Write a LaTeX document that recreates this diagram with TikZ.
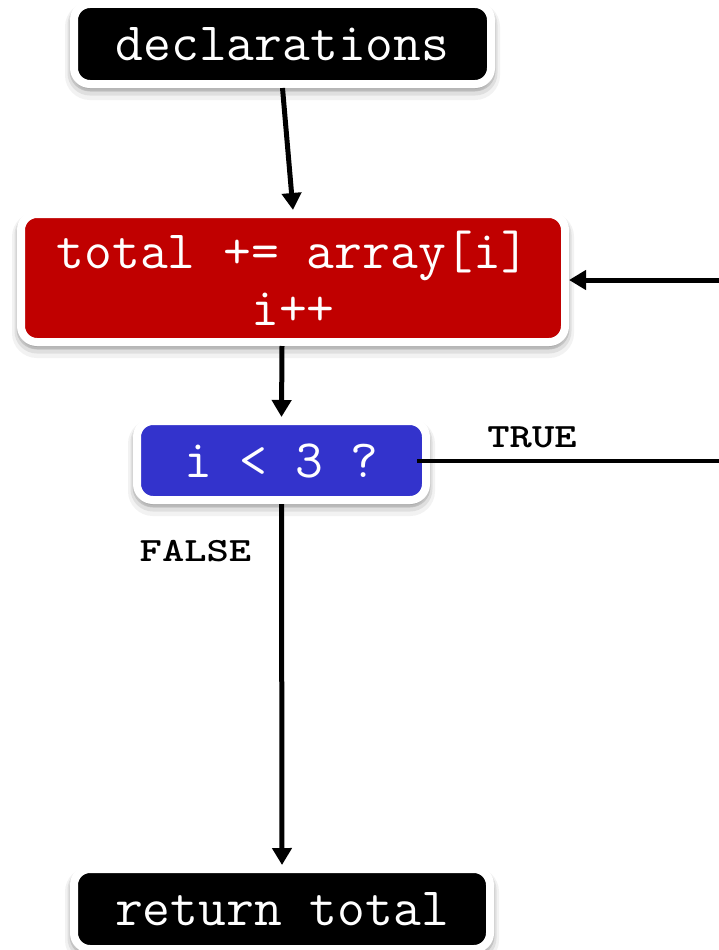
\documentclass[tikz,border=0pt]{standalone}
\usepackage{fontspec}
\usetikzlibrary{arrows.meta}
\definecolor{stepred}{HTML}{C00000}
\definecolor{testblue}{HTML}{3333CC}
\newcommand{\widelabel}[1]{\scalebox{1.25}[1]{#1}}
\tikzset{
  codebox/.style={rounded corners=16pt, draw=white, line width=8pt,
    text=white, align=center, inner sep=0pt,
    font=\ttfamily\fontsize{54}{57}\selectfont,
    preaction={draw=black, fill=black, line width=18pt, opacity=0.05,
      transform canvas={yshift=-7pt}},
    preaction={draw=black, fill=black, line width=13pt, opacity=0.08,
      transform canvas={yshift=-5pt}},
    preaction={draw=black, fill=black, line width=9pt, opacity=0.12,
      transform canvas={yshift=-3pt}}},
  conn/.style={draw=black, line width=5pt,
    -{Triangle[length=17pt,width=19pt]}},
  flowline/.style={draw=black, line width=4.5pt},
  branchlabel/.style={font=\ttfamily\bfseries\fontsize{34}{40}\selectfont,
    text=black, inner sep=0pt}
}
\begin{document}
\begin{tikzpicture}[x=1pt, y=-1pt]
  \useasboundingbox (0,0) rectangle (719,950);

  % boxes
  \node[codebox, fill=black, minimum width=417pt, minimum height=80pt]
    (decl) at (282.5,44) {declarations};
  \node[codebox, fill=stepred, minimum width=544pt, minimum height=128pt]
    (body) at (293,278) {total += array[i]\\i++};
  \node[codebox, fill=testblue, minimum width=289pt, minimum height=79pt]
    (test) at (281.5,460.5) {i < 3 ?};
  \node[codebox, fill=black, minimum width=416pt, minimum height=80pt]
    (ret) at (282,909) {return total};

  % branch labels
  \node[branchlabel] (truelbl) at (532,437) {\widelabel{TRUE}};
  \node[branchlabel] (falselbl) at (195.5,551) {\widelabel{FALSE}};

  % loop ends running off to the right
  \coordinate (loopout) at (719,461);
  \coordinate (loopin) at (719,280);

  % connectors
  \draw[conn] (decl.south) -- (body.north);
  \draw[conn] ([xshift=-11pt]body.south) -- (test.north);
  \draw[conn] (test.south) -- (ret.north);
  \draw[flowline] ([xshift=-13pt,yshift=-0.5pt]test.east) -- (loopout);
  \draw[conn] (loopin) -- (loopin -| body.east);
\end{tikzpicture}
\end{document}
